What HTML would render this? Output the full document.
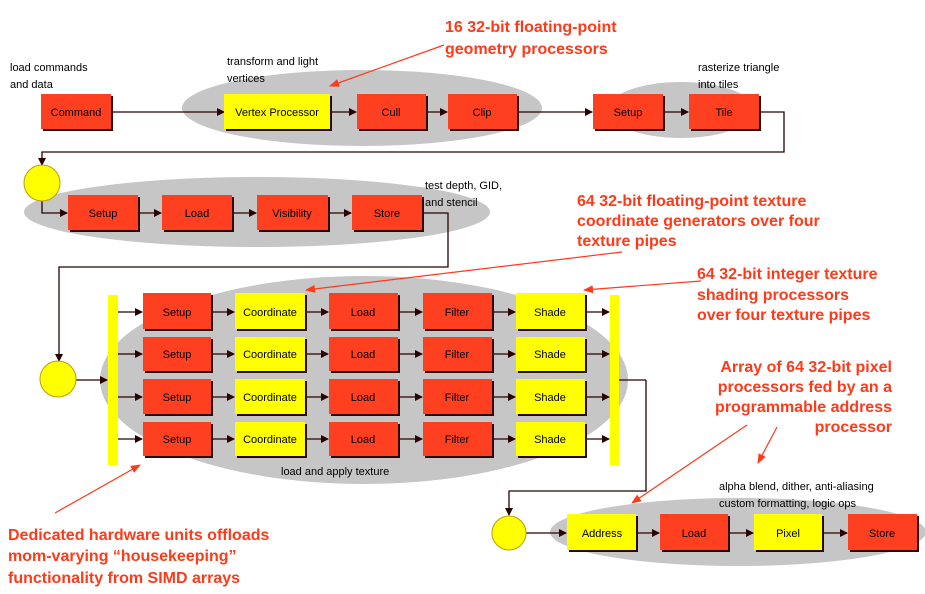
<!DOCTYPE html>
<html><head><meta charset="utf-8"><style>
html,body{margin:0;padding:0;background:#fff}
svg{display:block}
.s{font-family:"Liberation Sans",sans-serif;font-size:11px;fill:#000}
.b{font-family:"Liberation Sans",sans-serif;font-size:11px;fill:#000;text-anchor:middle}
.r{font-family:"Liberation Sans",sans-serif;font-size:16px;font-weight:bold;fill:#ff3a1a}
</style></head><body>
<svg width="925" height="594" viewBox="0 0 925 594" xmlns="http://www.w3.org/2000/svg">
<defs>
<marker id="a" markerWidth="8" markerHeight="8" refX="7" refY="4" orient="auto" markerUnits="userSpaceOnUse"><path d="M0,0 L8,4 L0,8z" fill="#2a0000"/></marker>
<marker id="ra" markerWidth="10" markerHeight="8" refX="9" refY="4" orient="auto" markerUnits="userSpaceOnUse"><path d="M0,0 L10,4 L0,8z" fill="#ff3a1a"/></marker>
</defs>
<g fill="#c6c6c6">
<ellipse cx="362" cy="108" rx="180" ry="38"/>
<ellipse cx="681" cy="110" rx="74" ry="28"/>
<ellipse cx="257" cy="212" rx="233" ry="35"/>
<ellipse cx="364" cy="380" rx="264" ry="104"/>
<ellipse cx="738" cy="532" rx="188" ry="34"/>
</g>
<g stroke="#2a0000" stroke-width="1.3" fill="none">
<path d="M112,112 H224" marker-end="url(#a)"/>
<path d="M330,112 H356" marker-end="url(#a)"/>
<path d="M426,112 H447" marker-end="url(#a)"/>
<path d="M517,112 H592" marker-end="url(#a)"/>
<path d="M663,112 H688" marker-end="url(#a)"/>
<path d="M759,112 H784 V152 H42 V165" marker-end="url(#a)"/>
<path d="M42,200 V213 H67" marker-end="url(#a)"/>
<path d="M138,213 H161" marker-end="url(#a)"/>
<path d="M232,213 H256" marker-end="url(#a)"/>
<path d="M328,213 H351" marker-end="url(#a)"/>
<path d="M422,213 H448 V267 H59 V361" marker-end="url(#a)"/>
<path d="M76,380 H107" marker-end="url(#a)"/>
<path d="M646,380 V491 H509 V515" marker-end="url(#a)"/>
<path d="M526,533 H566" marker-end="url(#a)"/>
<path d="M636,533 H659" marker-end="url(#a)"/>
<path d="M728,533 H753" marker-end="url(#a)"/>
<path d="M822,533 H847" marker-end="url(#a)"/>
</g>
<g stroke="#2a0000" stroke-width="1.3" fill="none">
<path d="M118,312 H142" marker-end="url(#a)"/><path d="M211,312 H234" marker-end="url(#a)"/><path d="M305,312 H328" marker-end="url(#a)"/><path d="M398,312 H422" marker-end="url(#a)"/><path d="M492,312 H515" marker-end="url(#a)"/><path d="M585,312 H609" marker-end="url(#a)"/>
<path d="M118,354 H142" marker-end="url(#a)"/><path d="M211,354 H234" marker-end="url(#a)"/><path d="M305,354 H328" marker-end="url(#a)"/><path d="M398,354 H422" marker-end="url(#a)"/><path d="M492,354 H515" marker-end="url(#a)"/><path d="M585,354 H609" marker-end="url(#a)"/>
<path d="M118,397 H142" marker-end="url(#a)"/><path d="M211,397 H234" marker-end="url(#a)"/><path d="M305,397 H328" marker-end="url(#a)"/><path d="M398,397 H422" marker-end="url(#a)"/><path d="M492,397 H515" marker-end="url(#a)"/><path d="M585,397 H609" marker-end="url(#a)"/>
<path d="M118,439 H142" marker-end="url(#a)"/><path d="M211,439 H234" marker-end="url(#a)"/><path d="M305,439 H328" marker-end="url(#a)"/><path d="M398,439 H422" marker-end="url(#a)"/><path d="M492,439 H515" marker-end="url(#a)"/><path d="M585,439 H609" marker-end="url(#a)"/>
<path d="M619,380 H646"/>
</g>
<g fill="#2a0a00">
<rect x="43" y="96" width="70" height="35"/><rect x="226" y="96" width="106" height="35"/><rect x="359" y="96" width="69" height="35"/><rect x="450" y="96" width="69" height="35"/><rect x="595" y="96" width="70" height="35"/><rect x="691" y="96" width="70" height="35"/>
<rect x="70" y="197" width="70" height="35"/><rect x="164" y="197" width="70" height="35"/><rect x="259" y="197" width="71" height="35"/><rect x="354" y="197" width="70" height="35"/>
<rect x="569" y="516" width="69" height="36"/><rect x="662" y="516" width="68" height="36"/><rect x="756" y="516" width="68" height="36"/><rect x="850" y="516" width="69" height="36"/>
</g>
<g fill="#ff4020">
<rect x="41" y="94" width="70" height="35"/><rect x="357" y="94" width="69" height="35"/><rect x="448" y="94" width="69" height="35"/><rect x="593" y="94" width="70" height="35"/><rect x="689" y="94" width="70" height="35"/>
<rect x="68" y="195" width="70" height="35"/><rect x="162" y="195" width="70" height="35"/><rect x="257" y="195" width="71" height="35"/><rect x="352" y="195" width="70" height="35"/>
<rect x="660" y="514" width="68" height="36"/><rect x="848" y="514" width="69" height="36"/>
</g>
<g fill="#ffff00">
<rect x="224" y="94" width="106" height="35"/>
<rect x="567" y="514" width="69" height="36"/><rect x="754" y="514" width="68" height="36"/>
</g>
<g fill="#2a0a00">
<rect x="145" y="295" width="68" height="36"/><rect x="237" y="295" width="70" height="36"/><rect x="331" y="295" width="69" height="36"/><rect x="425" y="295" width="69" height="36"/><rect x="518" y="295" width="69" height="36"/>
<rect x="145" y="339" width="68" height="34"/><rect x="237" y="339" width="70" height="34"/><rect x="331" y="339" width="69" height="34"/><rect x="425" y="339" width="69" height="34"/><rect x="518" y="339" width="69" height="34"/>
<rect x="145" y="381" width="68" height="35"/><rect x="237" y="381" width="70" height="35"/><rect x="331" y="381" width="69" height="35"/><rect x="425" y="381" width="69" height="35"/><rect x="518" y="381" width="69" height="35"/>
<rect x="145" y="424" width="68" height="34"/><rect x="237" y="424" width="70" height="34"/><rect x="331" y="424" width="69" height="34"/><rect x="425" y="424" width="69" height="34"/><rect x="518" y="424" width="69" height="34"/>
</g>
<g fill="#ff4020">
<rect x="143" y="293" width="68" height="36"/><rect x="329" y="293" width="69" height="36"/><rect x="423" y="293" width="69" height="36"/>
<rect x="143" y="337" width="68" height="34"/><rect x="329" y="337" width="69" height="34"/><rect x="423" y="337" width="69" height="34"/>
<rect x="143" y="379" width="68" height="35"/><rect x="329" y="379" width="69" height="35"/><rect x="423" y="379" width="69" height="35"/>
<rect x="143" y="422" width="68" height="34"/><rect x="329" y="422" width="69" height="34"/><rect x="423" y="422" width="69" height="34"/>
</g>
<g fill="#ffff00">
<rect x="235" y="293" width="70" height="36"/><rect x="516" y="293" width="69" height="36"/>
<rect x="235" y="337" width="70" height="34"/><rect x="516" y="337" width="69" height="34"/>
<rect x="235" y="379" width="70" height="35"/><rect x="516" y="379" width="69" height="35"/>
<rect x="235" y="422" width="70" height="34"/><rect x="516" y="422" width="69" height="34"/>
<rect x="108" y="295" width="10" height="170"/><rect x="610" y="295" width="9" height="170"/>
</g>
<g fill="#ffff00" stroke="#b8a000" stroke-width="1">
<circle cx="42" cy="183" r="18"/><circle cx="58" cy="379" r="18"/><circle cx="509" cy="533" r="17"/>
</g>
<g class="b">
<text x="76" y="116">Command</text><text x="277" y="116">Vertex Processor</text><text x="391" y="116">Cull</text><text x="482" y="116">Clip</text><text x="628" y="116">Setup</text><text x="724" y="116">Tile</text>
<text x="103" y="217">Setup</text><text x="197" y="217">Load</text><text x="292" y="217">Visibility</text><text x="387" y="217">Store</text>
<text x="177" y="316">Setup</text><text x="270" y="316">Coordinate</text><text x="363" y="316">Load</text><text x="457" y="316">Filter</text><text x="550" y="316">Shade</text>
<text x="177" y="358">Setup</text><text x="270" y="358">Coordinate</text><text x="363" y="358">Load</text><text x="457" y="358">Filter</text><text x="550" y="358">Shade</text>
<text x="177" y="401">Setup</text><text x="270" y="401">Coordinate</text><text x="363" y="401">Load</text><text x="457" y="401">Filter</text><text x="550" y="401">Shade</text>
<text x="177" y="443">Setup</text><text x="270" y="443">Coordinate</text><text x="363" y="443">Load</text><text x="457" y="443">Filter</text><text x="550" y="443">Shade</text>
<text x="602" y="537">Address</text><text x="694" y="537">Load</text><text x="788" y="537">Pixel</text><text x="882" y="537">Store</text>
</g>
<g class="s">
<text x="10" y="71">load commands</text><text x="10" y="88">and data</text>
<text x="227" y="65">transform and light</text><text x="227" y="82">vertices</text>
<text x="698" y="71">rasterize triangle</text><text x="698" y="88">into tiles</text>
<text x="425" y="189">test depth, GID,</text><text x="425" y="206">and stencil</text>
<text x="281" y="475">load and apply texture</text>
<text x="719" y="490">alpha blend, dither, anti-aliasing</text><text x="719" y="507">custom formatting, logic ops</text>
</g>
<g class="r">
<text x="445" y="32">16 32-bit floating-point</text><text x="445" y="54">geometry processors</text>
<text x="577" y="206">64 32-bit floating-point texture</text><text x="577" y="226">coordinate generators over four</text><text x="577" y="246">texture pipes</text>
<text x="697" y="279">64 32-bit integer texture</text><text x="697" y="300">shading processors</text><text x="697" y="320">over four texture pipes</text>
<g text-anchor="end"><text x="892" y="372">Array of 64 32-bit pixel</text><text x="892" y="392">processors fed by an a</text><text x="892" y="412">programmable address</text><text x="892" y="432">processor</text></g>
<text x="8" y="540">Dedicated hardware units offloads</text><text x="8" y="561">mom-varying “housekeeping”</text><text x="8" y="583">functionality from SIMD arrays</text>
</g>
<g stroke="#ff3a1a" stroke-width="1.2" fill="none">
<path d="M444,45 L330,86" marker-end="url(#ra)"/>
<path d="M622,252 L306,290" marker-end="url(#ra)"/>
<path d="M701,281 L584,290" marker-end="url(#ra)"/>
<path d="M747,425 L632,503" marker-end="url(#ra)"/>
<path d="M777,427 L758,463" marker-end="url(#ra)"/>
<path d="M55,513 L140,465" marker-end="url(#ra)"/>
</g>
</svg>
</body></html>
